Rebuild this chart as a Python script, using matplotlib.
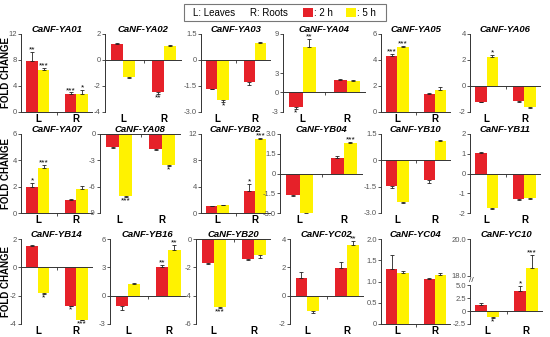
import matplotlib
matplotlib.use("agg")
import matplotlib.pyplot as plt
import numpy as np
from matplotlib.patches import Rectangle

plt.rcParams['font.family'] = ['Liberation Sans', 'DejaVu Sans']

genes = ["CaNF-YA01", "CaNF-YA02", "CaNF-YA03", "CaNF-YA04", "CaNF-YA05", "CaNF-YA06",
         "CaNF-YA07", "CaNF-YA08", "CaNF-YB02", "CaNF-YB04", "CaNF-YB10", "CaNF-YB11",
         "CaNF-YB14", "CaNF-YB16", "CaNF-YB20", "CaNF-YC02", "CaNF-YC04", "CaNF-YC10"]

# fold change values: leaves / roots at 2 h and 5 h
leaf_2h = [7.9, 1.2, -1.65, -2.2, 4.3, -1.2, 2.0, -1.5, 1.0, -1.65, -1.45, 1.05, 1.5, -1.1, -1.7, 1.25, 1.3, 1.1]
leaf_5h = [6.4, -1.3, -2.3, 7.0, 5.0, 2.2, 3.45, -7.1, 1.15, -3.0, -2.4, -1.75, -1.8, 1.2, -4.8, -1.05, 1.2, -1.1]
root_2h = [2.8, -2.5, -1.25, 1.9, 1.4, -1.15, 1.0, -1.7, 3.4, 1.15, -1.1, -1.3, -2.7, 3.05, -1.4, 1.95, 1.07, 3.9]
root_5h = [2.7, 1.1, 1.0, 1.8, 1.7, -1.65, 1.8, -3.5, 11.2, 2.3, 1.1, -1.25, -3.7, 4.8, -1.15, 3.55, 1.15, 18.4]

leaf_2h_err = [1.3, 0.1, 0.05, 0.4, 0.15, 0.05, 0.3, 0.1, 0.1, 0.05, 0.1, 0.03, 0.05, 0.4, 0.05, 0.4, 0.33, 0.4]
leaf_5h_err = [0.4, 0.05, 0.12, 1.3, 0.1, 0.2, 0.2, 0.1, 0.1, 0.05, 0.03, 0.03, 0.05, 0.15, 0.05, 0.15, 0.05, 0.2]
root_2h_err = [0.2, 0.1, 0.22, 0.2, 0.05, 0.05, 0.1, 0.1, 1.0, 0.2, 0.2, 0.05, 0.05, 0.2, 0.05, 0.45, 0.01, 1.0]
root_5h_err = [0.7, 0.08, 0.05, 0.1, 0.25, 0.05, 0.25, 0.1, 0.2, 0.1, 0.03, 0.05, 0.05, 0.6, 0.2, 0.3, 0.05, 0.75]

# significance marks (leaf 2h, leaf 5h, root 2h, root 5h)
stars = [("**", "***", "***", "*"), ("", "", "**", ""), ("", "*", "", ""), ("*", "**", "", ""),
         ("***", "***", "", ""), ("", "*", "", ""), ("*", "***", "", ""), ("", "***", "", "*"),
         ("", "", "*", "***"), ("", "**", "", "***"), ("", "", "", ""), ("", "", "", ""),
         ("", "*", "*", "***"), ("", "", "**", "**"), ("", "***", "", ""), ("", "", "", "**"),
         ("", "", "", ""), ("", "*", "*", "***")]

y_ticks = [[0, 4, 8, 12], [-4, -2, 0, 2], [-3.0, -1.5, 0, 1.5], [-3, 0, 3, 9], [0, 2, 4, 6], [-2, 0, 2, 4],
           [0, 2, 4, 6], [-9, -6, -3, 0], [0, 4, 8, 12], [-3.0, -1.5, 0, 1.5, 3.0], [-3.0, -1.5, 0, 1.5], [-2, -1, 0, 1, 2],
           [-4, -2, 0, 2], [-3, 0, 3, 6], [-6, -4, -2, 0], [-2, 0, 2, 4], [0, 0.5, 1.0, 1.5, 2.0],
           [-2.5, 0, 2.5, 5.0, 18.0, 20.0]]

group_labels = ["L", "R"]

RED = "#E62129"
YELLOW = "#FFF200"
W, H = 550, 337

row_top = [34, 134, 239]
row_bot = [112, 213, 324]
col_ext = [[(21, 92), (105, 181), (201, 270), (283, 365), (381, 450), (470, 540)],
           [(21, 92), (100, 180), (201, 270), (280, 362), (381, 450), (470, 540)],
           [(21, 92), (110, 185), (196, 270), (290, 363), (381, 450), (470, 542)]]


def fmt(t, ticks):
    if t == 0:
        return "0"
    if any(float(v) != int(v) for v in ticks):
        return f"{t:.1f}"
    return f"{int(t)}"


# broken axis for YC10: 5..18 compressed
def fwd(y):
    y = np.asarray(y, dtype=float)
    return np.where(y <= 5, y, np.where(y >= 18, 6.9 + (y - 18) * 3.56, 5 + (y - 5) * 1.9 / 13))


def inv(u):
    u = np.asarray(u, dtype=float)
    return np.where(u <= 5, u, np.where(u >= 6.9, 18 + (u - 6.9) / 3.56, 5 + (u - 5) * 13 / 1.9))


fig = plt.figure(figsize=(5.5, 3.37), dpi=100)

bw = 0.3
for i, gene in enumerate(genes):
    r, c = divmod(i, 6)
    l, rr = col_ext[r][c]
    t, b = row_top[r], row_bot[r]
    ax = fig.add_axes([l / W, 1 - b / H, (rr - l) / W, (b - t) / H])
    broken = gene == "CaNF-YC10"
    if broken:
        ax.set_yscale('function', functions=(fwd, inv))

    xs = [-bw / 2, bw / 2, 1 - bw / 2, 1 + bw / 2]
    vals = [leaf_2h[i], leaf_5h[i], root_2h[i], root_5h[i]]
    errs = [leaf_2h_err[i], leaf_5h_err[i], root_2h_err[i], root_5h_err[i]]
    cols = [RED, YELLOW, RED, YELLOW]
    ax.bar(xs, vals, width=bw, color=cols, edgecolor='none', zorder=2)
    lo = [e if v < 0 else 0 for v, e in zip(vals, errs)]
    hi = [e if v >= 0 else 0 for v, e in zip(vals, errs)]
    ax.errorbar(xs, vals, yerr=[lo, hi], fmt='none', ecolor='#222222',
                elinewidth=0.6, capsize=1.3, capthick=0.6, zorder=3)
    for x, v, e, s in zip(xs, vals, errs, stars[i]):
        if not s:
            continue
        if v >= 0:
            ax.annotate(s, (x, v + e), xytext=(0, 0.3), textcoords='offset points',
                        ha='center', va='baseline', fontsize=6, zorder=4)
        else:
            ax.annotate(s, (x, v - e), xytext=(0, -0.3), textcoords='offset points',
                        ha='center', va='top', fontsize=6, zorder=4)

    ticks = y_ticks[i]
    ax.set_ylim(ticks[0], ticks[-1])
    ax.set_yticks(ticks)
    ax.set_yticklabels([fmt(v, ticks) for v in ticks])
    ax.set_xlim(-0.44, 1.41)
    ax.set_xticks([0.5])
    ax.set_xticklabels([])

    ax.spines['top'].set_visible(False)
    ax.spines['right'].set_visible(False)
    ax.spines['bottom'].set_position(('data', 0))
    for sp in ['left', 'bottom']:
        ax.spines[sp].set_linewidth(0.7)
        ax.spines[sp].set_color('#333333')
    ax.tick_params(axis='y', length=2, width=0.6, color='#333333', labelsize=5.5,
                   labelcolor='#555555', pad=1)
    ax.tick_params(axis='x', length=2, width=0.6, color='#333333', direction='out')
    ax.patch.set_visible(False)

    if broken:
        ax.spines['left'].set_visible(False)
        yt = ax.get_yaxis_transform()
        ax.plot([0, 0], [-2.5, 5.0], transform=yt, color='#333333', lw=0.7, clip_on=False)
        ax.plot([0, 0], [18.0, 20.0], transform=yt, color='#333333', lw=0.7, clip_on=False)
        ax.text(0.02, 11.5, "//", transform=yt, ha='center', va='center', fontsize=6,
                color='#333333')

    for gx, gl in zip([0, 1], group_labels):
        ax.annotate(gl, (gx, 0), xycoords=ax.get_xaxis_transform(), xytext=(0, -1.5),
                    textcoords='offset points', ha='center', va='top', fontsize=7,
                    fontweight='bold')
    ax.set_title(gene, fontsize=6.8, fontweight='bold', fontstyle='italic', pad=1)

for t, b in zip(row_top, row_bot):
    fig.text(6 / W, 1 - (t + b) / 2 / H, "FOLD CHANGE", rotation=90, ha='center',
             va='center', fontsize=7, fontweight='bold')

# legend box
fig.add_artist(Rectangle((184 / W, 1 - 21 / H), (386 - 184) / W, 17 / H,
                         transform=fig.transFigure, fill=False, ec='#777777', lw=0.8))
ly = 1 - 12.5 / H
fig.text(193 / W, ly, "L: Leaves", ha='left', va='center', fontsize=7)
fig.text(250 / W, ly, "R: Roots", ha='left', va='center', fontsize=7)
fig.add_artist(Rectangle((303 / W, 1 - 17 / H), 10 / W, 9 / H, transform=fig.transFigure,
                         fc=RED, ec='none'))
fig.text(314 / W, ly, ": 2 h", ha='left', va='center', fontsize=7)
fig.add_artist(Rectangle((346 / W, 1 - 17 / H), 10 / W, 9 / H, transform=fig.transFigure,
                         fc=YELLOW, ec='none'))
fig.text(357 / W, ly, ": 5 h", ha='left', va='center', fontsize=7)

fig.savefig("out.png", dpi=100)
